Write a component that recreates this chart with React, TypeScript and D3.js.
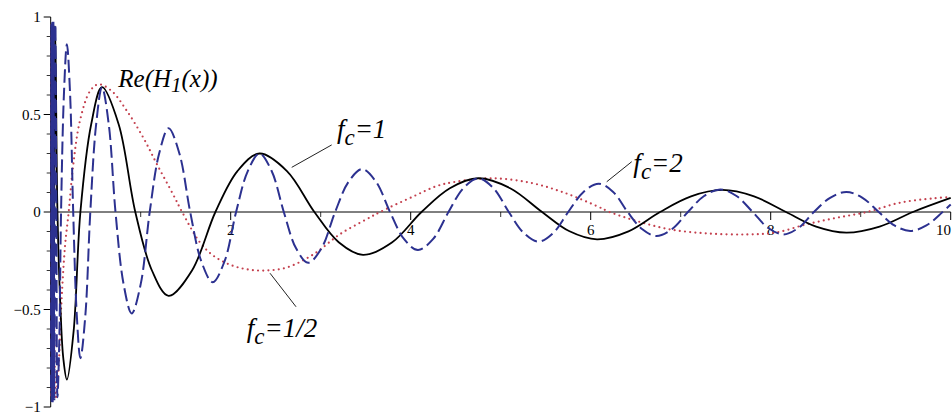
import React, { useEffect, useRef } from 'react';
import * as d3 from 'd3';

// values, [x, y]
const fc1Points: [number, number][] = [
  [0.005, -0.9], [0.009, 0.95], [0.014, -0.96], [0.021, 0.96], [0.031, -0.96], [0.05, 0.95],
  [0.075, 0], [0.11, -0.51], [0.14, -0.75], [0.18, -0.86], [0.255, -0.61], [0.33, 0],
  [0.45, 0.45], [0.57, 0.64], [0.755, 0.45], [0.94, 0], [1.125, -0.3], [1.31, -0.43],
  [1.57, -0.3], [1.83, 0], [2.075, 0.21], [2.32, 0.3], [2.625, 0.21], [2.93, 0],
  [3.2, -0.155], [3.47, -0.22], [3.795, -0.155], [4.12, 0], [4.435, 0.122], [4.75, 0.173],
  [5.105, 0.122], [5.46, 0], [5.765, -0.099], [6.07, -0.14], [6.42, -0.099], [6.77, 0],
  [7.115, 0.08], [7.46, 0.113], [7.815, 0.08], [8.17, 0], [8.505, -0.075], [8.84, -0.106],
  [9.21, -0.075], [9.58, 0], [10, 0.072],
];

const fc2Points: [number, number][] = [
  [0.004, -0.9], [0.007, 0.96], [0.011, -0.97], [0.016, 0.97], [0.022, -0.97], [0.03, 0.97],
  [0.04, -0.96], [0.052, 0.96], [0.063, 0], [0.075, -0.95], [0.095, -0.67], [0.115, 0],
  [0.1475, 0.61], [0.18, 0.86], [0.215, 0.61], [0.25, 0], [0.29, -0.53], [0.33, -0.75],
  [0.385, -0.53], [0.44, 0], [0.505, 0.45], [0.57, 0.64], [0.645, 0.45], [0.72, 0],
  [0.81, -0.37], [0.9, -0.52], [1.0, -0.37], [1.1, 0], [1.205, 0.3], [1.31, 0.43],
  [1.43, 0.3], [1.55, 0], [1.675, -0.255], [1.8, -0.36], [1.93, -0.255], [2.06, 0],
  [2.19, 0.21], [2.32, 0.3], [2.455, 0.21], [2.59, 0], [2.725, -0.185], [2.86, -0.26],
  [3.01, -0.185], [3.16, 0], [3.31, 0.155], [3.46, 0.22], [3.615, 0.155], [3.77, 0],
  [3.925, -0.138], [4.08, -0.195], [4.25, -0.138], [4.42, 0], [4.585, 0.122], [4.75, 0.173],
  [4.92, 0.122], [5.09, 0], [5.255, -0.107], [5.42, -0.152], [5.585, -0.107], [5.75, 0],
  [5.92, 0.103], [6.09, 0.145], [6.25, 0.103], [6.41, 0], [6.57, -0.087], [6.73, -0.123],
  [6.905, -0.087], [7.08, 0], [7.26, 0.082], [7.44, 0.116], [7.62, 0.082], [7.8, 0],
  [7.97, -0.081], [8.14, -0.115], [8.31, -0.081], [8.48, 0], [8.66, 0.073], [8.84, 0.103],
  [9.02, 0.073], [9.2, 0], [9.375, -0.069], [9.55, -0.097], [9.73, -0.069], [9.91, 0],
  [10, 0.038],
];

const fcHalfPoints: [number, number][] = [
  [0.004, 0.9], [0.007, -0.95], [0.011, 0.96], [0.017, -0.96], [0.026, 0.95], [0.04, -0.6],
  [0.058, -0.95], [0.09, -0.78], [0.115, -0.5], [0.16, -0.17], [0.2, 0], [0.25, 0.24],
  [0.326, 0.47], [0.437, 0.62], [0.53, 0.655], [0.678, 0.62], [0.844, 0.52], [1.03, 0.38],
  [1.18, 0.245], [1.36, 0.09], [1.46, 0], [1.66, -0.157], [1.81, -0.225], [1.99, -0.27],
  [2.18, -0.294], [2.38, -0.3], [2.62, -0.285], [2.92, -0.217], [3.21, -0.115], [3.51, -0.037],
  [3.66, 0], [4.03, 0.08], [4.29, 0.133], [4.5, 0.155], [4.9, 0.173], [5.33, 0.15],
  [5.7, 0.1], [6.07, 0.03], [6.21, 0], [6.51, -0.046], [6.88, -0.089], [7.3, -0.11],
  [7.73, -0.115], [8.05, -0.106], [8.4, -0.063], [8.73, -0.03], [9.07, 0], [9.44, 0.048],
  [9.81, 0.07], [10, 0.077],
];

const xMajorTicks = [2, 4, 6, 8, 10];
const xTickLabels = ['2', '4', '6', '8', '10'];
const xMinorTicks = [1, 3, 5, 7, 9];
const yMajorTicks = [-1, -0.5, 0, 0.5, 1];
const yTickLabels = ['\u22121', '\u22120.5', '0', '0.5', '1'];
const yMinorTicks = [-0.9, -0.8, -0.7, -0.6, -0.4, -0.3, -0.2, -0.1, 0.1, 0.2, 0.3, 0.4, 0.6, 0.7, 0.8, 0.9];

// label text, anchor and leader line in data units
const labels = [
  { main: 'f', sub: 'c', rest: '=1', x: 3.18, y: 0.378, line: [[2.678, 0.229], [3.122, 0.344]] },
  { main: 'f', sub: 'c', rest: '=2', x: 6.474, y: 0.207, line: [[6.178, 0.155], [6.456, 0.258]] },
  { main: 'f', sub: 'c', rest: '=1/2', x: 2.178, y: -0.639, line: [[2.437, -0.314], [2.726, -0.486]] },
];

const W = 952;
const H = 415;
const FONT = "'Liberation Serif', 'Times New Roman', Times, serif";

const App = () => {
  const ref = useRef<SVGSVGElement>(null);

  useEffect(() => {
    const svg = d3.select(ref.current);
    svg.selectAll('*').remove();

    const x = d3.scaleLinear().domain([0, 10]).range([50.7, 950.7]);
    const y = d3.scaleLinear().domain([-1, 1]).range([407, 17]);
    const y0 = y(0);

    // y axis
    svg.append('line')
      .attr('x1', x(0)).attr('x2', x(0))
      .attr('y1', y(1)).attr('y2', y(-1))
      .attr('stroke', '#000').attr('stroke-width', 1);
    svg.selectAll('.ymin').data(yMinorTicks).enter().append('line')
      .attr('x1', x(0) - 4).attr('x2', x(0))
      .attr('y1', d => y(d)).attr('y2', d => y(d))
      .attr('stroke', '#000').attr('stroke-width', 0.8);
    svg.selectAll('.ymaj').data(yMajorTicks).enter().append('line')
      .attr('x1', x(0) - 7).attr('x2', x(0))
      .attr('y1', d => y(d)).attr('y2', d => y(d))
      .attr('stroke', '#000').attr('stroke-width', 1);
    svg.selectAll('.ylab').data(yMajorTicks).enter().append('text')
      .attr('x', x(0) - 10)
      .attr('y', d => y(d))
      .attr('dy', '0.35em')
      .attr('text-anchor', 'end')
      .style('font-family', FONT)
      .style('font-size', '15px')
      .text((d, i) => yTickLabels[i]);

    // x axis
    svg.append('line')
      .attr('x1', x(0)).attr('x2', x(10))
      .attr('y1', y0).attr('y2', y0)
      .attr('stroke', '#000').attr('stroke-width', 1);
    svg.selectAll('.xmin').data(xMinorTicks).enter().append('line')
      .attr('x1', d => x(d)).attr('x2', d => x(d))
      .attr('y1', y0).attr('y2', y0 + 5)
      .attr('stroke', '#000').attr('stroke-width', 0.8);
    svg.selectAll('.xmaj').data(xMajorTicks).enter().append('line')
      .attr('x1', d => x(d)).attr('x2', d => x(d))
      .attr('y1', y0).attr('y2', y0 + 8)
      .attr('stroke', '#000').attr('stroke-width', 1);
    svg.selectAll('.xlab').data(xMajorTicks).enter().append('text')
      .attr('x', d => (d === 10 ? W - 1 : x(d)))
      .attr('y', y0 + 23)
      .attr('text-anchor', d => (d === 10 ? 'end' : 'middle'))
      .style('font-family', FONT)
      .style('font-size', '15px')
      .text((d, i) => xTickLabels[i]);

    const line = d3.line<[number, number]>()
      .x(d => x(d[0]))
      .y(d => y(d[1]))
      .curve(d3.curveCatmullRom.alpha(0.5));

    // f_c = 1/2, dotted
    svg.append('path')
      .datum(fcHalfPoints)
      .attr('d', line)
      .attr('fill', 'none')
      .attr('stroke', '#c4404e')
      .attr('stroke-width', 2.2)
      .attr('stroke-linecap', 'round')
      .attr('stroke-dasharray', '0 5.2');

    // f_c = 1, solid
    svg.append('path')
      .datum(fc1Points)
      .attr('d', line)
      .attr('fill', 'none')
      .attr('stroke', '#000')
      .attr('stroke-width', 1.8);

    // f_c = 2, dashed
    svg.append('path')
      .datum(fc2Points)
      .attr('d', line)
      .attr('fill', 'none')
      .attr('stroke', '#2c3190')
      .attr('stroke-width', 2)
      .attr('stroke-dasharray', '13 5');

    // Re(H_1(x)) title
    const t = svg.append('text')
      .attr('x', x(0.751))
      .attr('y', y(0.643))
      .style('font-family', FONT)
      .style('font-style', 'italic')
      .style('font-size', '25px')
      .attr('fill', '#000');
    t.append('tspan').text('Re(H');
    t.append('tspan').attr('dy', 5).style('font-size', '21px').text('1');
    t.append('tspan').attr('dy', -5).text('(x))');

    // f_c labels with leader lines
    labels.forEach(l => {
      svg.append('line')
        .attr('x1', x(l.line[0][0])).attr('y1', y(l.line[0][1]))
        .attr('x2', x(l.line[1][0])).attr('y2', y(l.line[1][1]))
        .attr('stroke', '#222').attr('stroke-width', 1);
      const lt = svg.append('text')
        .attr('x', x(l.x))
        .attr('y', y(l.y))
        .style('font-family', FONT)
        .style('font-style', 'italic')
        .style('font-size', '27px')
        .attr('fill', '#000');
      lt.append('tspan').text(l.main);
      lt.append('tspan').attr('dy', 7).style('font-size', '23px').text(l.sub);
      lt.append('tspan').attr('dy', -7).text(l.rest);
    });
  }, []);

  return (
    <svg
      ref={ref}
      width={W}
      height={H}
      style={{ position: 'absolute', left: 0, top: 0, background: '#fff' }}
    />
  );
};

export default App;
